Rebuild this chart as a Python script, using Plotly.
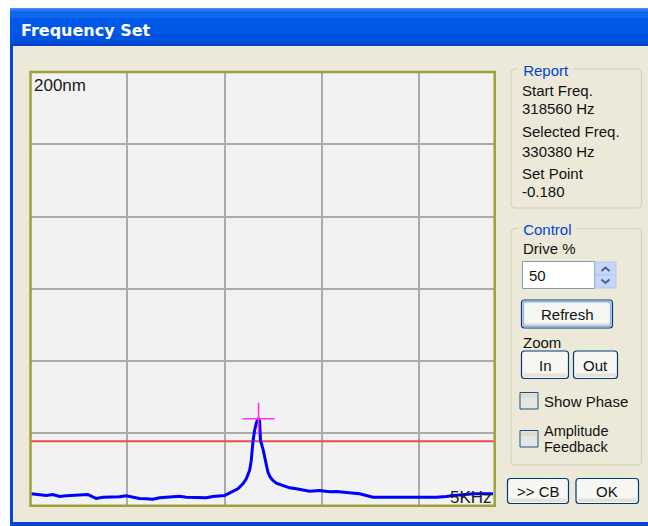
import plotly.graph_objects as go

# ---------------- data ----------------
FREQ_KHZ = [0.012, 0.063, 0.166, 0.235, 0.303, 0.372, 0.440, 0.509, 0.594, 0.629,
            0.680, 0.749, 0.851, 0.920, 0.988, 1.057, 1.125, 1.194, 1.262, 1.331,
            1.399, 1.468, 1.536, 1.605, 1.673, 1.742, 1.811, 1.879, 1.948, 1.999,
            2.033, 2.085, 2.136, 2.187, 2.222, 2.256, 2.273, 2.290, 2.307, 2.328,
            2.348, 2.358, 2.368, 2.393, 2.410, 2.427, 2.444, 2.468, 2.496, 2.530,
            2.598, 2.667, 2.736, 2.804, 2.873, 2.975, 3.078, 3.147, 3.215, 3.318,
            3.386, 3.455, 3.523, 3.592, 3.661, 3.729, 3.832, 3.935, 4.003, 4.106,
            4.174, 4.277, 4.346, 4.448, 4.551, 4.688, 4.757]
AMPLITUDE_NM = [5.39, 5.08, 4.62, 5.08, 4.16, 4.47, 4.62, 4.93, 5.08, 4.31,
                3.23, 3.85, 3.85, 4.00, 4.47, 3.85, 3.23, 3.08, 2.92, 3.54,
                3.85, 4.16, 4.31, 3.85, 3.85, 3.85, 3.54, 4.16, 4.47, 4.62,
                5.39, 6.47, 7.70, 10.01, 12.32, 16.17, 20.79, 29.25, 34.64, 38.49,
                40.03, 39.26, 30.02, 26.17, 22.33, 18.48, 15.40, 13.09, 11.55, 10.32,
                9.24, 8.16, 7.70, 7.24, 6.62, 6.93, 6.31, 6.47, 6.16, 5.70,
                5.39, 4.62, 3.85, 3.85, 3.85, 3.85, 3.54, 3.85, 3.85, 3.54,
                3.85, 4.16, 4.62, 4.93, 5.39, 5.39, 5.39]
SETPOINT_NM = 29.7
X_RANGE_KHZ = [0, 4.772]
Y_RANGE_NM = [0, 200]
Y_GRID_STEP = 200 / 6
X_GRID_STEP = 1

TITLE = "Frequency Set"
SCALE_LABEL = "200nm"
SPAN_LABEL = "5KHz"
REPORT_LINES = ["Start Freq.", "318560 Hz", "Selected Freq.", "330380 Hz", "Set Point", "-0.180"]
DRIVE_PCT = "50"

# ---------------- geometry helpers ----------------
W, H = 648, 526
def P(x): return x / W
def Q(y): return 1 - y / H

FONT = "Liberation Sans"
shapes = []
annots = []

def rect(x0, y0, x1, y1, fill=None, line=None, lw=1, layer="above"):
    shapes.append(dict(type="rect", xref="paper", yref="paper",
                       x0=P(x0), x1=P(x1), y0=Q(y1), y1=Q(y0),
                       fillcolor=fill if fill else "rgba(0,0,0,0)",
                       line=dict(color=line if line else "rgba(0,0,0,0)", width=lw if line else 0),
                       layer=layer))

def rrect(x0, y0, x1, y1, r, fill=None, line=None, lw=1, layer="above"):
    rx, ry = r / W, r / H
    a, b, c, d = P(x0), P(x1), Q(y1), Q(y0)  # left, right, bottom, top
    path = (f"M{a+rx},{d} L{b-rx},{d} Q{b},{d} {b},{d-ry} L{b},{c+ry} Q{b},{c} {b-rx},{c} "
            f"L{a+rx},{c} Q{a},{c} {a},{c+ry} L{a},{d-ry} Q{a},{d} {a+rx},{d} Z")
    shapes.append(dict(type="path", xref="paper", yref="paper", path=path,
                       fillcolor=fill if fill else "rgba(0,0,0,0)",
                       line=dict(color=line if line else "rgba(0,0,0,0)", width=lw if line else 0),
                       layer=layer))

def poly(pts, color, lw=1.5):
    path = "M" + " L".join(f"{P(x)},{Q(y)}" for x, y in pts)
    shapes.append(dict(type="path", xref="paper", yref="paper", path=path,
                       line=dict(color=color, width=lw), layer="above"))

def text(x, y, s, size=15, color="#111111", xanchor="left", bold=False, bg=None, family=FONT):
    annots.append(dict(x=P(x), y=Q(y), xref="paper", yref="paper", text=(f"<b>{s}</b>" if bold else s),
                       showarrow=False, xanchor=xanchor, yanchor="middle",
                       font=dict(family=family, size=size, color=color),
                       bgcolor=bg if bg else "rgba(0,0,0,0)", borderpad=0))

BEIGE = "#ECE9D8"

# window frame
rect(10, 8, 660, 526, fill="#0846D8", layer="below")
bands = [(8, 9, "#4A92F8"), (9, 11, "#2A78F2"), (11, 18, "#0E66EC"), (18, 34, "#0059E6"),
         (34, 41, "#0152E0"), (41, 44, "#004AD6"), (44, 46, "#0040C8")]
for y0, y1, c in bands:
    rect(10, y0, 660, y1, fill=c, layer="below")
rect(13, 46, 660, 522, fill=BEIGE, layer="below")
# plot canvas
rect(30, 72, 494.5, 505.5, fill="#F2F2F2", layer="below")

# title
text(20, 30.5, TITLE, size=16, color="#FFFFFF", bold=True, family="DejaVu Sans")

# plot border
rect(30.5, 72, 494.7, 505.7, line="#A0A03C", lw=2.5)

# in-plot labels
text(33, 85, SCALE_LABEL, size=17, color="#1A1A1A")
text(493, 497, SPAN_LABEL, size=17, color="#1A1A1A", xanchor="right")

# group boxes
GB = "#D0D0BF"
rrect(511, 69, 641.5, 208, 4, line=GB, lw=1)
rrect(511, 228.5, 641.5, 465, 4, line=GB, lw=1)
text(517.5, 70, " Report ", size=15, color="#0046D5", bg=BEIGE)
text(517.5, 229, " Control ", size=15, color="#0046D5", bg=BEIGE)

ys = [90, 108.5, 132, 151.5, 173.5, 191.5]
for s, y in zip(REPORT_LINES, ys):
    text(520.5, y, s)

text(522, 248.5, "Drive %")
# text field
rect(522.5, 261.5, 594.5, 288.5, fill="#FFFFFF", line="#7F9DB9", lw=1)
text(527.5, 275, DRIVE_PCT)
# spin buttons
rect(595, 262, 616, 275, fill="#C6D5F8", line="#B4C7F2", lw=1)
rect(595, 275, 616, 288, fill="#C6D5F8", line="#B4C7F2", lw=1)
poly([(601.5, 271), (605.5, 267.5), (609.5, 271)], "#4D6185", 2)
poly([(601.5, 279.5), (605.5, 283), (609.5, 279.5)], "#4D6185", 2)

def button(x0, y0, x1, y1, label, focused=False):
    rrect(x0, y0, x1, y1, 3, fill="#F6F6F3", line="#003C74", lw=1.2)
    rect(x0 + 2, y1 - 5, x1 - 2, y1 - 1.5, fill="#E4E1D6")
    if focused:
        rrect(x0 + 1.8, y0 + 1.8, x1 - 1.8, y1 - 1.8, 2, line="#8EB0EE", lw=1.6)
    text((x0 + x1) / 2, (y0 + y1) / 2 + 0.5, label, xanchor="center")

button(521.5, 300, 612.5, 328, "Refresh", focused=True)
text(522, 342.5, "Zoom")
button(521.5, 351, 568.5, 378.5, "In")
button(573.5, 351, 617.5, 378.5, "Out")

def checkbox(x0, y0, x1, y1):
    rect(x0, y0, x1, y1, fill="#E6E6E0", line="#1C5180", lw=1)
    rect(x0 + 1, y0 + 1, x1 - 1, y0 + 5, fill="#DCDCD5")

checkbox(520, 392.5, 538, 409)
text(543, 401, "Show Phase")
checkbox(520, 430.5, 538, 447)
text(543, 431, "Amplitude", size=14.5)
text(543, 446.5, "Feedback", size=14.5)

button(507.5, 478.5, 568.5, 503.5, ">> CB")
button(576, 478.5, 638.5, 503.5, "OK")

# ---------------- figure ----------------
fig = go.Figure()
fig.add_trace(go.Scatter(x=X_RANGE_KHZ, y=[SETPOINT_NM, SETPOINT_NM], mode="lines",
                         line=dict(color="#F04848", width=2), hoverinfo="skip"))
fig.add_trace(go.Scatter(x=FREQ_KHZ, y=AMPLITUDE_NM, mode="lines",
                         line=dict(color="#0000FF", width=3), hoverinfo="skip"))
ipk = max(range(len(AMPLITUDE_NM)), key=lambda i: AMPLITUDE_NM[i])
fig.add_trace(go.Scatter(x=[FREQ_KHZ[ipk]], y=[AMPLITUDE_NM[ipk]], mode="markers",
                         marker=dict(symbol="cross-thin", size=23,
                                     line=dict(color="#FF33FF", width=1.6)),
                         hoverinfo="skip"))

fig.update_layout(
    width=W, height=H, margin=dict(l=0, r=0, t=0, b=0),
    paper_bgcolor="#FFFFFF", plot_bgcolor="#F2F2F2",
    showlegend=False, shapes=shapes, annotations=annots,
    xaxis=dict(domain=[P(30), P(494.5)], range=X_RANGE_KHZ, tick0=0, dtick=X_GRID_STEP,
               showgrid=True, gridcolor="#ABABAB", gridwidth=1.5, zeroline=False,
               showticklabels=False, ticks="", showline=False, fixedrange=True),
    yaxis=dict(domain=[Q(505.5), Q(72)], range=Y_RANGE_NM, tick0=0, dtick=Y_GRID_STEP,
               showgrid=True, gridcolor="#ABABAB", gridwidth=1.5, zeroline=False,
               showticklabels=False, ticks="", showline=False, fixedrange=True),
)
fig.write_html("out.html", config={"displayModeBar": False},
               post_script="document.body.style.margin='0';document.body.style.overflow='hidden';")
